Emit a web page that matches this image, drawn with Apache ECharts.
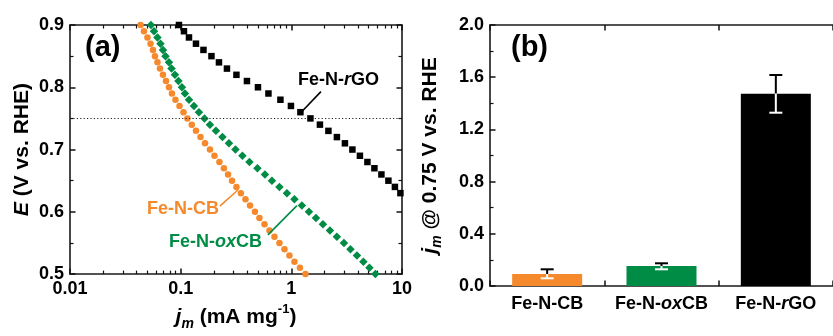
<!DOCTYPE html>
<html>
<head>
<meta charset="utf-8">
<script src="https://cdn.jsdelivr.net/npm/echarts@6/dist/echarts.min.js"></script>
<style>
html,body{margin:0;padding:0;background:#fff;}
#c{width:833px;height:336px;}
</style>
</head>
<body>
<div id="c"></div>
<script>
// ---------- DATA ----------
const potentials = [0.90,0.89,0.88,0.87,0.86,0.85,0.84,0.83,0.82,0.81,0.80,0.79,0.78,0.77,0.76,0.75,0.74,0.73,0.72,0.71,0.70,0.69,0.68,0.67,0.66,0.65,0.64,0.63,0.62,0.61,0.60,0.59,0.58,0.57,0.56,0.55,0.54,0.53,0.52,0.51,0.50];
const jmFeNCB = [0.0434,0.0466,0.0501,0.0534,0.0562,0.0586,0.0617,0.0650,0.0692,0.0737,0.0784,0.0834,0.0897,0.0976,0.106,0.115,0.126,0.1375,0.151,0.166,0.184,0.202,0.224,0.246,0.268,0.291,0.319,0.350,0.385,0.423,0.469,0.515,0.572,0.634,0.704,0.781,0.867,0.961,1.067,1.196,1.341];
const jmFeNoxCB = [0.0539,0.0574,0.0617,0.0657,0.0692,0.0729,0.0784,0.0826,0.0888,0.0955,0.1027,0.1093,0.1189,0.1318,0.1463,0.1641,0.1839,0.2084,0.2385,0.2731,0.3126,0.3617,0.4183,0.4941,0.5775,0.668,0.781,0.913,1.067,1.246,1.442,1.668,1.930,2.232,2.581,2.987,3.420,3.914,4.479,5.076,5.750];
const jmFeNrGO = [0.0965,0.1071,0.1189,0.1375,0.1607,0.1898,0.2218,0.2620,0.3191,0.3971,0.4994,0.6211,0.7970,0.9917,1.208,1.488,1.813,2.163,2.581,3.050,3.563,4.166,4.869,5.632,6.515,7.537,8.629,9.674];
const xTicksA = [0.01, 0.1, 1, 10];
const refPotential = 0.75;

const categoriesB = ['Fe-N-CB', 'Fe-N-oxCB', 'Fe-N-rGO'];
const categoryLabelsB = ['Fe-N-CB', 'Fe-N-{it|ox}CB', 'Fe-N-{it|r}GO'];
const valuesB = [0.092, 0.153, 1.474];
const errUpperB = [0.128, 0.174, 1.617];
const errLowerB = [0.059, 0.128, 1.328];

const labelsA = [
  {text: 'Fe-N-CB', at: [0.105, 0.604], from: [0.226, 0.609], to: [0.329, 0.635]},
  {text: 'Fe-N-{it|ox}CB', at: [0.206, 0.551], from: [0.6145, 0.563], to: [1.124, 0.610]},
  {text: 'Fe-N-{it|r}GO', at: [2.665, 0.811], from: [1.247, 0.761], to: [1.851, 0.793]}
];

// ---------- STYLE ----------
const FONT = '"Liberation Sans", Arial, Helvetica, sans-serif';
const ORANGE = '#F5892C';
const GREEN = '#008C45';
const BLACK = '#000000';
const AXIS = '#1a1a1a';
const TICK = '#111';
const seriesColors = [ORANGE, GREEN, BLACK];

const nameRich = {
  b: {fontFamily: FONT, fontSize: 21, fontWeight: 'bold', color: '#000', lineHeight: 28},
  i: {fontFamily: FONT, fontSize: 21, fontWeight: 'bold', fontStyle: 'italic', color: '#000', lineHeight: 28},
  sub: {fontFamily: FONT, fontSize: 14, fontWeight: 'bold', fontStyle: 'italic', color: '#000', lineHeight: 14, verticalAlign: 'bottom'},
  sup: {fontFamily: FONT, fontSize: 13, fontWeight: 'bold', color: '#000', lineHeight: 14, verticalAlign: 'top'}
};
const majorT = () => ({show: true, inside: true, length: 5.5, interval: 0, lineStyle: {color: TICK, width: 1.5}});
const minorT = (n) => ({show: true, splitNumber: n, length: 3.5, lineStyle: {color: TICK, width: 1.2}});

function axisCommon(extra) {
  return Object.assign({
    axisLine: {show: true, onZero: false, lineStyle: {color: AXIS, width: 1.6}},
    axisTick: majorT(),
    splitLine: {show: false},
    axisLabel: {show: true, fontFamily: FONT, fontSize: 18, fontWeight: 'bold', color: '#000', margin: 6}
  }, extra);
}

const pairs = (js) => js.map((j, k) => [j, potentials[k]]);
const tickLabelRich = {it: {fontFamily: FONT, fontSize: 18, fontWeight: 'bold', fontStyle: 'italic', color: '#000'}};

const option = {
  animation: false,
  backgroundColor: '#fff',
  title: [
    {text: '(a)', left: 80, top: 28, textStyle: {fontFamily: FONT, fontSize: 29, fontWeight: 'bold', color: '#000'}},
    {text: '(b)', left: 506, top: 28, textStyle: {fontFamily: FONT, fontSize: 29, fontWeight: 'bold', color: '#000'}}
  ],
  grid: [
    {left: 70, right: 431, top: 25, bottom: 57},
    {left: 490, right: -8, top: 25, bottom: 50}
  ],
  xAxis: [
    axisCommon({gridIndex: 0, type: 'log', logBase: 10, min: xTicksA[0], max: xTicksA[3], position: 'bottom', minorTick: minorT(9),
      axisLabel: {show: true, fontFamily: FONT, fontSize: 18, fontWeight: 'bold', color: '#000', margin: 6, formatter: (v) => String(v)},
      name: '{i|j}{sub|m}{b| (mA mg}{sup|-1}{b|)}', nameLocation: 'middle', nameGap: 26, nameTextStyle: {rich: nameRich}}),
    axisCommon({gridIndex: 0, type: 'log', logBase: 10, min: xTicksA[0], max: xTicksA[3], position: 'top', minorTick: minorT(9), axisLabel: {show: false}}),
    axisCommon({gridIndex: 1, type: 'category', data: categoriesB, position: 'bottom', boundaryGap: true,
      axisLabel: {show: true, interval: 0, fontFamily: FONT, fontSize: 18, fontWeight: 'bold', color: '#000', margin: 9,
        formatter: (v, idx) => categoryLabelsB[idx], rich: tickLabelRich}}),
    axisCommon({gridIndex: 1, type: 'category', data: categoriesB, position: 'top', boundaryGap: true, axisLabel: {show: false}})
  ],
  yAxis: [
    axisCommon({gridIndex: 0, type: 'value', min: 0.5, max: 0.9, interval: 0.1, position: 'left', minorTick: minorT(2),
      axisLabel: {show: true, fontFamily: FONT, fontSize: 18, fontWeight: 'bold', color: '#000', margin: 6, formatter: (v) => v.toFixed(1)},
      name: '{i|E}{b| (V vs. RHE)}', nameLocation: 'middle', nameGap: 34, nameTextStyle: {rich: nameRich}}),
    axisCommon({gridIndex: 0, type: 'value', min: 0.5, max: 0.9, interval: 0.1, position: 'right', minorTick: minorT(2), axisLabel: {show: false}}),
    axisCommon({gridIndex: 1, type: 'value', min: 0, max: 2.0, interval: 0.4, position: 'left', minorTick: minorT(2),
      axisLabel: {show: true, fontFamily: FONT, fontSize: 18, fontWeight: 'bold', color: '#000', margin: 6, formatter: (v) => v.toFixed(1)},
      name: '{i|j}{sub|m}{b| @ 0.75 V vs. RHE}', nameLocation: 'middle', nameGap: 46, nameTextStyle: {rich: nameRich}})
  ],
  series: [
    {type: 'scatter', xAxisIndex: 0, yAxisIndex: 0, symbol: 'circle', symbolSize: 6.5,
      itemStyle: {color: ORANGE, opacity: 1}, data: pairs(jmFeNCB), clip: true, silent: true, z: 3,
      markLine: {silent: true, symbol: ['none', 'none'], label: {show: false},
        lineStyle: {color: '#222', type: [1.2, 2.2], width: 1}, data: [{yAxis: refPotential}]}},
    {type: 'scatter', xAxisIndex: 0, yAxisIndex: 0, symbol: 'diamond', symbolSize: 8.5,
      itemStyle: {color: GREEN, opacity: 1}, data: pairs(jmFeNoxCB), clip: true, silent: true, z: 4},
    {type: 'scatter', xAxisIndex: 0, yAxisIndex: 0, symbol: 'rect', symbolSize: 6.5,
      itemStyle: {color: BLACK, opacity: 1}, data: pairs(jmFeNrGO), clip: true, silent: true, z: 5},
    ...labelsA.map((l, k) => ({
      type: 'scatter', xAxisIndex: 0, yAxisIndex: 0, symbolSize: 0, silent: true, z: 6, itemStyle: {opacity: 1},
      data: [l.at],
      label: {show: true, position: 'inside', formatter: l.text, fontFamily: FONT, fontSize: 18, fontWeight: 'bold', color: seriesColors[k],
        rich: {it: {fontFamily: FONT, fontSize: 18, fontWeight: 'bold', fontStyle: 'italic', color: seriesColors[k]}}},
      markLine: {silent: true, symbol: ['none', 'none'], label: {show: false},
        lineStyle: {color: seriesColors[k], type: 'solid', width: 1.6, opacity: 1}, data: [[{coord: l.from}, {coord: l.to}]]}
    })),
    {type: 'bar', xAxisIndex: 2, yAxisIndex: 2, barWidth: 70, silent: true,
      data: valuesB.map((v, k) => ({value: v, itemStyle: {color: seriesColors[k]}}))},
    {type: 'custom', xAxisIndex: 2, yAxisIndex: 2, silent: true, z: 10,
      data: valuesB.map((v, k) => [k, v, errUpperB[k], errLowerB[k]]),
      renderItem: function (params, api) {
        const mid = api.coord([api.value(0), api.value(1)]);
        const up = api.coord([api.value(0), api.value(2)]);
        const lo = api.coord([api.value(0), api.value(3)]);
        const hw = 6.5, x = mid[0];
        return {type: 'group', children: [
          {type: 'line', shape: {x1: x, y1: mid[1], x2: x, y2: up[1]}, style: {stroke: '#000', lineWidth: 2}},
          {type: 'line', shape: {x1: x - hw, y1: up[1], x2: x + hw, y2: up[1]}, style: {stroke: '#000', lineWidth: 2}},
          {type: 'line', shape: {x1: x, y1: mid[1], x2: x, y2: lo[1]}, style: {stroke: '#fff', lineWidth: 2}},
          {type: 'line', shape: {x1: x - hw, y1: lo[1], x2: x + hw, y2: lo[1]}, style: {stroke: '#fff', lineWidth: 2}}
        ]};
      }}
  ]
};

const chart = echarts.init(document.getElementById('c'), null, {renderer: 'canvas'});
chart.setOption(option);
</script>
</body>
</html>
